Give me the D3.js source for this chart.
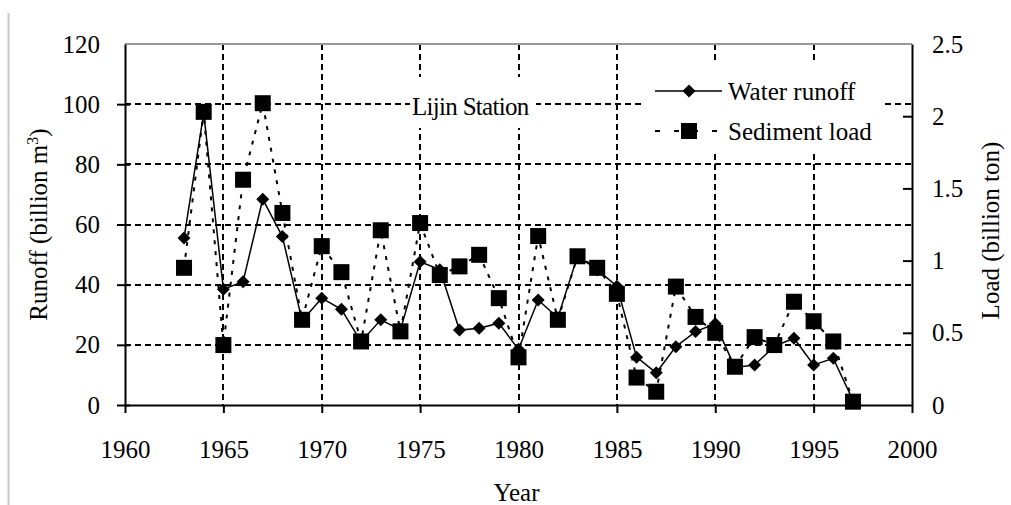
<!DOCTYPE html>
<html>
<head>
<meta charset="utf-8">
<script src="https://cdn.jsdelivr.net/npm/d3@7"></script>
<style>
  body { margin: 0; background: #fff; }
</style>
</head>
<body>
<div id="chart"><svg></svg></div>
<script>
const WIDTH = 1011;
const HEIGHT = 505;
const MARGIN = {
  top: 44, right: 99, bottom: 100, left: 125
};
const FONT = '"Liberation Serif", "Times New Roman", "DejaVu Serif", serif';
const FONT_SIZE = '25px';

// data
const years = [1963, 1964, 1965, 1966, 1967, 1968, 1969, 1970, 1971, 1972,
  1973, 1974, 1975, 1976, 1977, 1978, 1979, 1980, 1981, 1982,
  1983, 1984, 1985, 1986, 1987, 1988, 1989, 1990, 1991, 1992,
  1993, 1994, 1995, 1996, 1997];
// billion m3
const runoff = [55.5, 97, 38.5, 41, 68.4, 56, 28, 35.5, 31.8, 21,
  28.3, 25, 47.6, 45, 24.9, 25.5, 27.2, 18.5, 34.9, 29,
  49.5, 45, 39.5, 15.9, 10.7, 19.4, 24.4, 27, 12.5, 13.3,
  19.5, 22.2, 13.3, 15.5, 1.5];
// billion ton
const sediment = [0.95, 2.03, 0.415, 1.56, 2.09, 1.33, 0.59, 1.10, 0.92, 0.44,
  1.21, 0.51, 1.26, 0.90, 0.96, 1.04, 0.74, 0.33, 1.17, 0.59,
  1.03, 0.95, 0.77, 0.19, 0.092, 0.82, 0.61, 0.50, 0.265, 0.47,
  0.415, 0.715, 0.58, 0.44, 0.023];

const xTicks = [1960, 1965, 1970, 1975, 1980, 1985, 1990, 1995, 2000];
const yTicks = [0, 20, 40, 60, 80, 100, 120];
const y2Ticks = [0, 0.5, 1, 1.5, 2, 2.5];

const width = WIDTH - MARGIN.left - MARGIN.right;
const height = HEIGHT - MARGIN.top - MARGIN.bottom;

const svg = d3.select('#chart svg')
  .attr('width', WIDTH)
  .attr('height', HEIGHT);

function addText(sel) {
  return sel.append('text')
    .style('font-family', FONT)
    .style('font-size', FONT_SIZE)
    .attr('fill', '#000');
}

// faint frame line on the far left of the original image
svg.append('line')
  .attr('x1', 8.5).attr('x2', 8.5)
  .attr('y1', 13).attr('y2', HEIGHT)
  .attr('stroke', '#c8c8c8')
  .attr('stroke-width', 2);

const x = d3.scaleLinear().domain([1960, 2000]).range([0, width]);
const y = d3.scaleLinear().domain([0, 120]).range([height, 0]);
const y2 = d3.scaleLinear().domain([0, 2.5]).range([height, 0]);

const inner = svg.append('g')
  .attr('transform', `translate(${MARGIN.left}, ${MARGIN.top})`);

// grid
const grid = inner.append('g').attr('class', 'grid')
  .attr('stroke', '#000')
  .attr('stroke-width', 2)
  .attr('stroke-dasharray', '6,4')
  .attr('shape-rendering', 'crispEdges');
grid.selectAll('.h')
  .data(yTicks.filter(d => d > 0 && d < 120))
  .enter().append('line')
  .attr('x1', 0).attr('x2', width)
  .attr('y1', d => y(d)).attr('y2', d => y(d));
grid.selectAll('.v')
  .data(xTicks.filter(d => d > 1960 && d < 2000))
  .enter().append('line')
  .attr('y1', 0).attr('y2', height)
  .attr('x1', d => x(d)).attr('x2', d => x(d));

// top border
inner.append('line')
  .attr('x1', 0).attr('x2', width)
  .attr('y1', 0).attr('y2', 0)
  .attr('stroke', '#999')
  .attr('stroke-width', 2);

// white boxes behind the station label and the legend
inner.append('rect')
  .attr('x', 410 - MARGIN.left).attr('y', 77 - MARGIN.top)
  .attr('width', 126).attr('height', 51)
  .attr('fill', '#fff');
inner.append('rect')
  .attr('x', 643 - MARGIN.left).attr('y', 64 - MARGIN.top)
  .attr('width', 239).attr('height', 89)
  .attr('fill', '#fff');

// axes
const xAxis = inner.append('g')
  .attr('transform', `translate(0, ${height})`)
  .call(d3.axisBottom(x).tickValues(xTicks).tickFormat(d3.format('d'))
    .tickSize(8).tickPadding(27).tickSizeOuter(0));
const yAxis = inner.append('g')
  .call(d3.axisLeft(y).tickValues(yTicks).tickSize(8).tickPadding(17).tickSizeOuter(0));
yAxis.selectAll('.tick line').attr('x1', 5);
const y2Axis = inner.append('g')
  .attr('transform', `translate(${width}, 0)`)
  .call(d3.axisRight(y2).tickValues(y2Ticks).tickFormat(d => d)
    .tickSize(-9).tickPadding(20).tickSizeOuter(0));

[xAxis, yAxis, y2Axis].forEach((a) => {
  a.attr('font-family', null).attr('font-size', null);
  a.select('.domain').attr('stroke-width', 2);
  a.selectAll('.tick line').attr('stroke-width', 2);
  a.selectAll('text')
    .style('font-family', FONT)
    .style('font-size', FONT_SIZE);
});
yAxis.select('.tick:last-of-type line').remove();
y2Axis.selectAll('.tick').filter(d => d === 0 || d === 2.5).select('line').remove();

// series
const runoffLine = d3.line()
  .x((d, i) => x(years[i]))
  .y(d => y(d));
const sedimentLine = d3.line()
  .x((d, i) => x(years[i]))
  .y(d => y2(d));

inner.append('path')
  .datum(runoff)
  .attr('d', runoffLine)
  .attr('fill', 'none')
  .attr('stroke', '#000')
  .attr('stroke-width', 1.5);

const diamond = 'M0,-6.5L6.5,0L0,6.5L-6.5,0Z';
inner.append('g').selectAll('path')
  .data(runoff)
  .enter().append('path')
  .attr('d', diamond)
  .attr('transform', (d, i) => `translate(${x(years[i])}, ${y(d)})`)
  .attr('fill', '#000');

inner.append('path')
  .datum(sediment)
  .attr('d', sedimentLine)
  .attr('fill', 'none')
  .attr('stroke', '#000')
  .attr('stroke-width', 2)
  .attr('stroke-dasharray', '4,7');

const SQ = 16;
inner.append('g').selectAll('rect')
  .data(sediment)
  .enter().append('rect')
  .attr('x', (d, i) => x(years[i]) - SQ / 2)
  .attr('y', d => y2(d) - SQ / 2)
  .attr('width', SQ)
  .attr('height', SQ)
  .attr('fill', '#000');

// station label
addText(svg)
  .attr('x', 412).attr('y', 115)
  .style('letter-spacing', '-0.7px')
  .text('Lijin Station');

// legend
const legend = svg.append('g').attr('transform', 'translate(655, 0)');
legend.append('line')
  .attr('x1', 0).attr('x2', 67).attr('y1', 91).attr('y2', 91)
  .attr('stroke', '#000').attr('stroke-width', 1.5);
legend.append('path')
  .attr('d', diamond)
  .attr('transform', 'translate(34, 91)')
  .attr('fill', '#000');
addText(legend)
  .attr('x', 73).attr('y', 100)
  .text('Water runoff');
legend.append('line')
  .attr('x1', 0).attr('x2', 67).attr('y1', 131).attr('y2', 131)
  .attr('stroke', '#000').attr('stroke-width', 2)
  .attr('stroke-dasharray', '5,14');
legend.append('rect')
  .attr('x', 34 - SQ / 2).attr('y', 131 - SQ / 2)
  .attr('width', SQ).attr('height', SQ)
  .attr('fill', '#000');
addText(legend)
  .attr('x', 73).attr('y', 140)
  .text('Sediment load');

// axis titles
addText(svg)
  .attr('x', MARGIN.left + width / 2 - 2)
  .attr('y', 501)
  .attr('text-anchor', 'middle')
  .text('Year');

const yTitle = addText(svg)
  .attr('transform', `translate(47, ${MARGIN.top + height / 2}) rotate(-90)`)
  .attr('text-anchor', 'middle');
yTitle.append('tspan').text('Runoff (billion m');
yTitle.append('tspan').attr('dy', -9).style('font-size', '16px').text('3');
yTitle.append('tspan').attr('dy', 9).text(')');

addText(svg)
  .attr('transform', `translate(999, ${MARGIN.top + height / 2 + 6}) rotate(-90)`)
  .attr('text-anchor', 'middle')
  .text('Load (billion ton)');
</script>
</body>
</html>
